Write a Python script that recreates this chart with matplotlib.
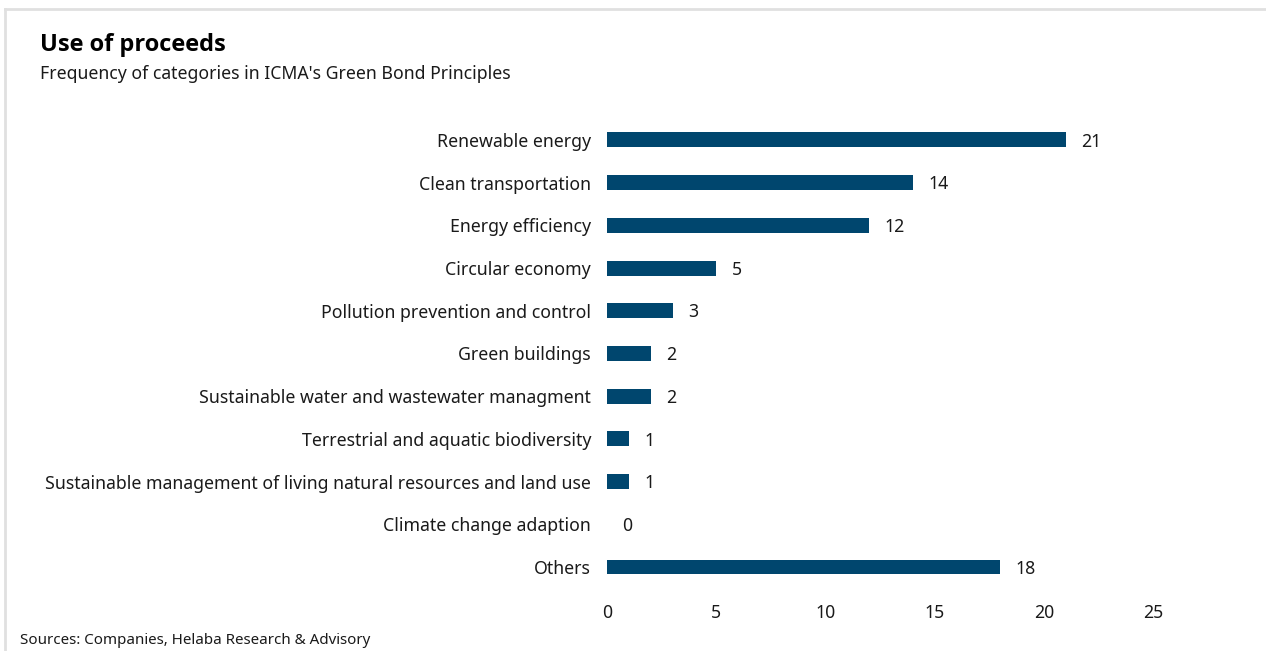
import matplotlib.pyplot as plt
from matplotlib.lines import Line2D

plt.rcParams['font.family'] = ['Noto Sans', 'DejaVu Sans']

# ICMA green bond categories and how often they appear
categories = [
    "Renewable energy",
    "Clean transportation",
    "Energy efficiency",
    "Circular economy",
    "Pollution prevention and control",
    "Green buildings",
    "Sustainable water and wastewater managment",
    "Terrestrial and aquatic biodiversity",
    "Sustainable management of living natural resources and land use",
    "Climate change adaption",
    "Others",
]
counts = [21, 14, 12, 5, 3, 2, 2, 1, 1, 0, 18]
xticks = [0, 5, 10, 15, 20, 25]

bar_color = "#00466e"
text_color = "#1a1a1a"

fig = plt.figure(figsize=(12.66, 6.51), dpi=100)
ax = fig.add_axes([0.4795, 0.0962, 0.4312, 0.7216])

ypos = list(range(len(categories)))
ax.barh(ypos, counts, height=0.35, color=bar_color)
for y, v in zip(ypos, counts):
    ax.annotate(str(v), (v, y), xytext=(11, -1.2), textcoords="offset points",
                va="center", ha="left", fontsize=12.7, color=text_color)

ax.set_ylim(len(categories) - 0.5, -0.5)
ax.set_xlim(0, 25)
ax.set_yticks(ypos)
ax.set_yticklabels(categories, fontsize=12.75, color=text_color)
ax.set_xticks(xticks)
ax.set_xticklabels([str(t) for t in xticks], fontsize=12.7, color=text_color)
ax.tick_params(axis="both", length=0)
ax.tick_params(axis="y", pad=11.5)
ax.tick_params(axis="x", pad=11)
for s in ax.spines.values():
    s.set_visible(False)

# light frame along top and left edge
fig.add_artist(Line2D([4.5 / 1266, 1], [1 - 8.5 / 651, 1 - 8.5 / 651],
                      transform=fig.transFigure, color="#e0e0e0", lw=2))
fig.add_artist(Line2D([4.5 / 1266, 4.5 / 1266], [0, 1 - 8.5 / 651],
                      transform=fig.transFigure, color="#e0e0e0", lw=2))

fig.text(40 / 1266, 1 - 45 / 651, "Use of proceeds", fontsize=17,
         fontweight="bold", family=["Open Sans", "DejaVu Sans"],
         va="center", ha="left", color="black")
fig.text(40 / 1266, 1 - 74 / 651, "Frequency of categories in ICMA's Green Bond Principles",
         fontsize=12.7, va="center", ha="left", color=text_color)
fig.text(20 / 1266, 1 - 641 / 651, "Sources: Companies, Helaba Research & Advisory",
         fontsize=10.9, va="center", ha="left", color=text_color)

fig.savefig("out.png", dpi=100)
